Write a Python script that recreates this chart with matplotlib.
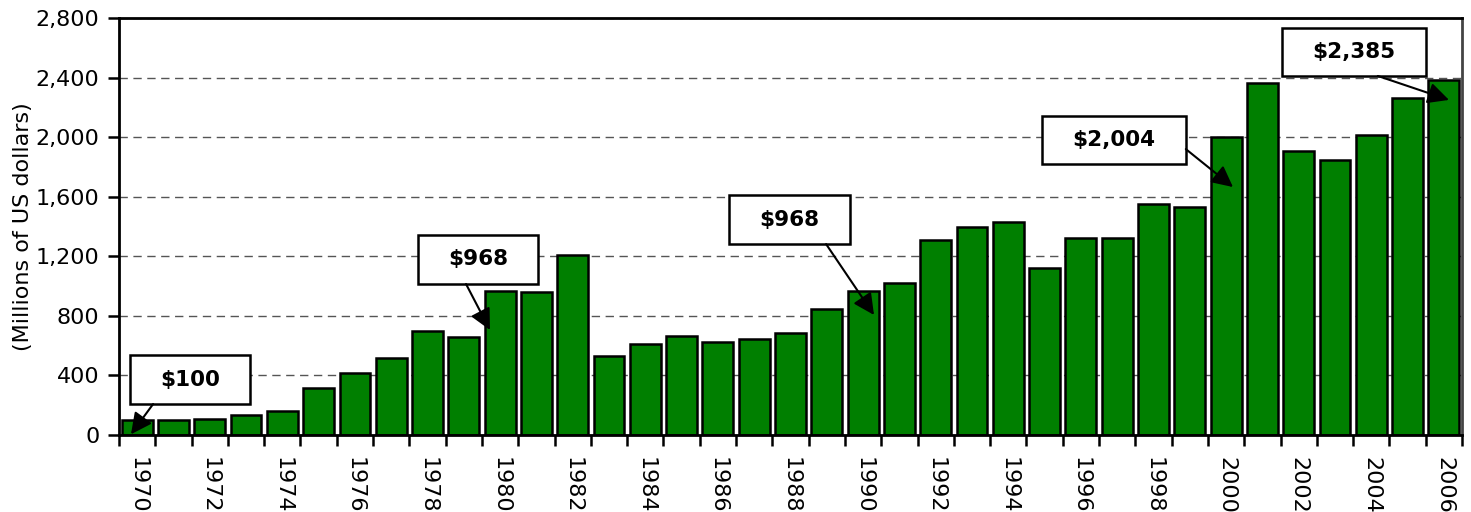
import numpy as np
import matplotlib as mpl
mpl.use('Agg')
import matplotlib.pyplot as plt
from matplotlib.patches import Rectangle

# yearly values, millions of US dollars
years = list(range(1970, 2007))
values = [100, 98, 110, 132, 163, 313, 414, 519, 698, 656,
          968, 960, 1206, 530, 611, 667, 627, 645, 683, 844,
          968, 1023, 1309, 1394, 1432, 1119, 1323, 1323, 1551, 1533,
          2004, 2363, 1907, 1844, 2014, 2263, 2385]

# callouts: label, box (x0, x1 in bar index; y0, y1 in data), arrow tail, arrow tip
callout_labels = ['$100', '$968', '$968', '$2,004', '$2,385']
callout_boxes = [(-0.2, 3.1, 208, 537), (7.74, 11.04, 1014, 1343),
                 (16.3, 19.64, 1282, 1611), (24.93, 28.89, 1820, 2142),
                 (31.54, 35.51, 2411, 2733)]
callout_tails = [(0.44, 208), (9.06, 1014), (18.98, 1282), (28.89, 1920), (34.18, 2411)]
callout_tips = [(-0.17, 5), (9.72, 705), (20.3, 806), (30.19, 1665), (36.14, 2250)]

fig = plt.figure(figsize=(14.71, 5.12), dpi=100)
ax = fig.add_axes([0.0809, 0.1504, 0.9939 - 0.0809, 0.9648 - 0.1504])

x = np.arange(len(years))
ax.bar(x, values, width=0.85, color='#007f00', edgecolor='black', linewidth=1.8, zorder=2)

# y axis and dashed grid
ax.set_ylim(0, 2800)
ax.set_yticks(np.arange(0, 2801, 400))
ax.set_yticklabels(['{:,}'.format(v) for v in range(0, 2801, 400)], fontsize=16)
ax.yaxis.grid(True, linestyle=(0, (6, 4)), color='#555555', linewidth=1.0, zorder=0)
ax.set_axisbelow(True)

# x axis: labels on even years, ticks between bars
ax.set_xlim(-0.5, len(years) - 0.5)
ax.set_xticks(x[::2])
ax.set_xticklabels([str(y) for y in years[::2]], rotation=270, fontsize=16)
ax.set_xticks(np.arange(-0.5, len(years), 1), minor=True)
ax.tick_params(axis='x', which='major', length=0, pad=16)
ax.tick_params(axis='x', which='minor', length=8, width=1.8, direction='out')
ax.tick_params(axis='y', length=8, width=1.8, direction='out', pad=6)

for s in ax.spines.values():
    s.set_linewidth(2)
ax.spines['right'].set_color('#444444')

ax.set_ylabel('(Millions of US dollars)', fontsize=16, labelpad=2)

# callout boxes with arrows
for lab, box, tail, tip in zip(callout_labels, callout_boxes, callout_tails, callout_tips):
    x0, x1, y0, y1 = box
    ax.add_patch(Rectangle((x0, y0), x1 - x0, y1 - y0, facecolor='white',
                           edgecolor='black', linewidth=1.8, zorder=4))
    ax.text((x0 + x1) / 2, (y0 + y1) / 2, lab, ha='center', va='center',
            fontsize=15.5, fontweight='bold', zorder=5)
    ax.annotate('', xy=tip, xytext=tail, zorder=5,
                arrowprops=dict(arrowstyle='-|>,head_length=0.8,head_width=0.4',
                                color='black', lw=1.5, mutation_scale=16,
                                shrinkA=0, shrinkB=0))

fig.savefig('out.png', dpi=100)
